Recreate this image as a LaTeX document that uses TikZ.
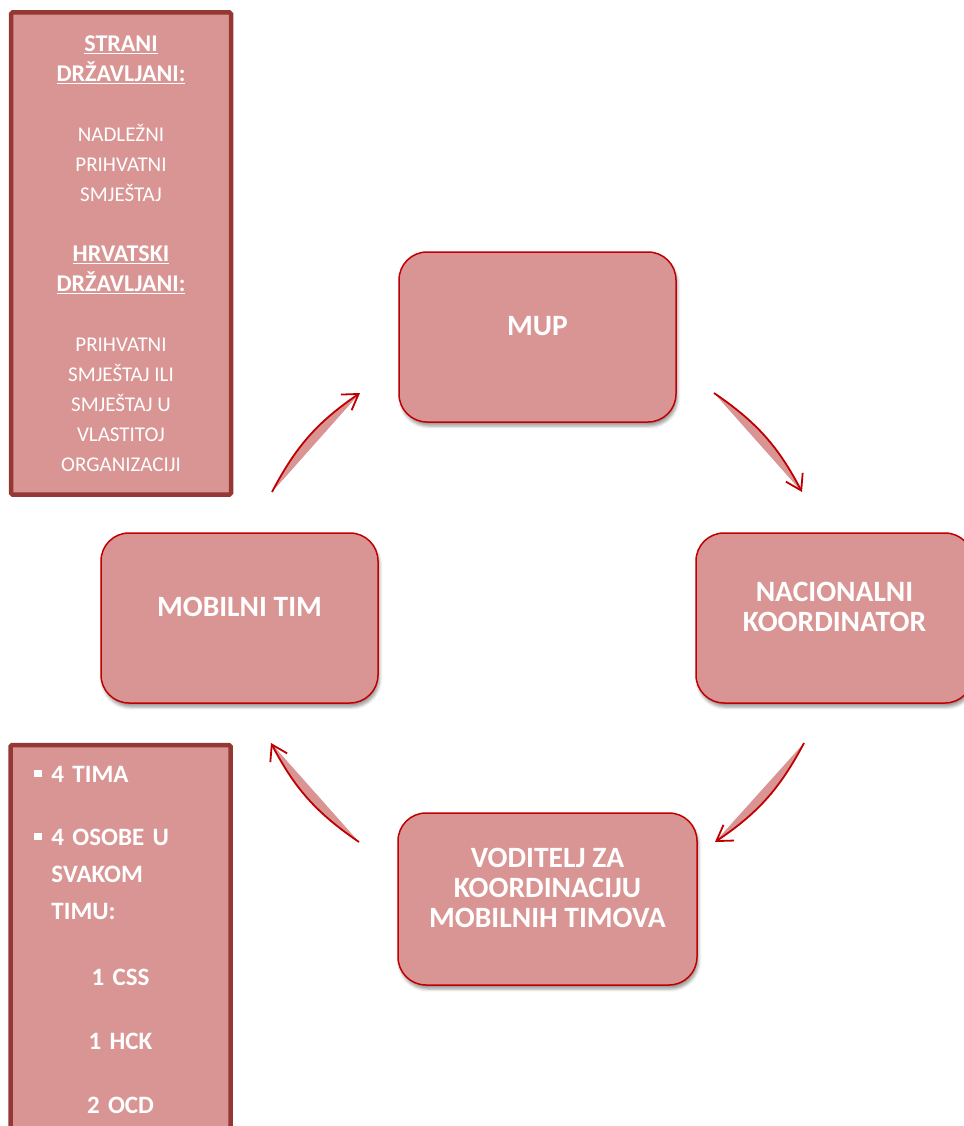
\documentclass[tikz,border=0pt]{standalone}
\usepackage{fontspec}
\setmainfont{Carlito}
\usetikzlibrary{arrows.meta,shadows.blur}

\definecolor{boxfill}{HTML}{D99594}
\definecolor{boxline}{HTML}{C00000}
\definecolor{sideline}{HTML}{953735}

\newcommand{\headline}[1]{{\fontsize{24}{30}\selectfont\bfseries\underline{#1}}}

\begin{document}
\begin{tikzpicture}[x=1pt,y=-1pt,
  stage/.style={draw=boxline,line width=1.5pt,fill=boxfill,rounded corners=28pt,
    minimum width=277pt,minimum height=170pt,text=white,align=center,
    font=\fontsize{29.5}{30}\selectfont\bfseries,text depth=22pt,
    blur shadow={shadow xshift=1.5pt,shadow yshift=-4pt,shadow blur radius=3pt}},
  sidebox/.style={draw=sideline,line width=4.5pt,fill=boxfill,rounded corners=1.5pt,
    minimum width=220pt,text=white,inner sep=0pt},
  flow/.style={draw=boxline,line width=1.8pt,
    -{Straight Barb[length=15pt,width=19pt]}},
  flowfill/.style={fill=boxfill}]
  \useasboundingbox (0,0) rectangle (963,1126);

  % side notes
  \node[sidebox,minimum height=482pt,align=center,
    font=\fontsize{21}{30}\selectfont] (citizens) at (121,253.5)
    {\headline{STRANI}\\
     \headline{DRŽAVLJANI:}\\[30pt]
     NADLEŽNI\\ PRIHVATNI\\ SMJEŠTAJ\\[30pt]
     \headline{HRVATSKI}\\
     \headline{DRŽAVLJANI:}\\[30pt]
     PRIHVATNI\\ SMJEŠTAJ ILI\\ SMJEŠTAJ U\\ VLASTITOJ\\ ORGANIZACIJI};
  \node[sidebox,minimum height=390pt,text width=216pt,align=left,
    font=\fontsize{25}{37}\selectfont\bfseries] (teams) at (120.5,940)
    {\noindent\hspace*{22pt}\rule[6pt]{7pt}{7pt}\hspace{10pt}4 TIMA\\[26pt]
     \hspace*{22pt}\rule[6pt]{7pt}{7pt}\hspace{10pt}4 OSOBE U\\
     \hspace*{39pt}SVAKOM\\
     \hspace*{39pt}TIMU:\\[29pt]
     \makebox[\linewidth]{1 CSS}\\[27pt]
     \makebox[\linewidth]{1 HCK}\\[27pt]
     \makebox[\linewidth]{2 OCD}};

  % cycle
  \node[stage] (mup) at (537.5,337) {MUP};
  \node[stage] (nac) at (834.5,618) {NACIONALNI\\ KOORDINATOR};
  \node[stage,minimum width=299pt,minimum height=172pt] (vod) at (547.5,899)
    {VODITELJ ZA\\ KOORDINACIJU\\ MOBILNIH TIMOVA};
  \node[stage] (mob) at (239.5,618) {MOBILNI TIM};

  \coordinate (mob-out) at (272,492);
  \coordinate (mup-in) at (360,393);
  \coordinate (mup-out) at (714,393);
  \coordinate (nac-in) at (802,492);
  \coordinate (nac-out) at (804,743);
  \coordinate (vod-in) at (715,842);
  \coordinate (vod-out) at (359,842);
  \coordinate (mob-in) at (271,743);

  \foreach \a/\b in {mob-out/mup-in,mup-out/nac-in,nac-out/vod-in,vod-out/mob-in}{
    \fill[flowfill] (\a) to[bend left=14] (\b) -- cycle;
    \draw[flow] (\a) to[bend left=14] (\b);
  }
\end{tikzpicture}
\end{document}
